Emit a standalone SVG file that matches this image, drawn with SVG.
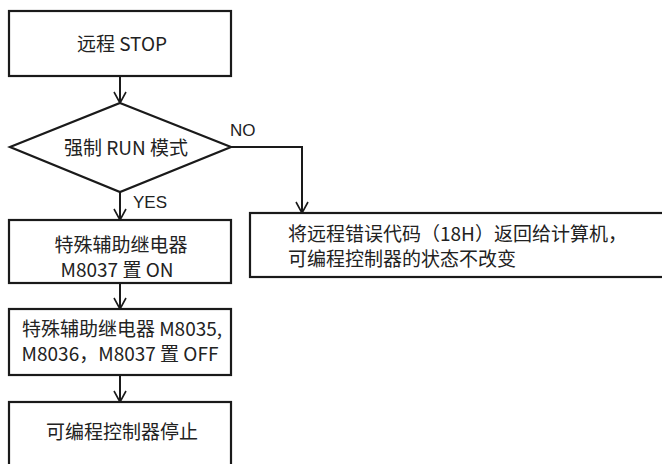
<svg xmlns="http://www.w3.org/2000/svg" width="662" height="464" viewBox="0 0 662 464">
<defs>
<marker id="arr" markerWidth="14" markerHeight="14" viewBox="-12 -7 14 14" refX="0" refY="0" orient="auto" markerUnits="userSpaceOnUse">
<polyline points="-11,-6 0,0 -11,6" fill="none" stroke="#1a1a1a" stroke-width="1.6"/>
</marker>
</defs>
<style>
.box{fill:#fff;stroke:#1a1a1a;stroke-width:2.2}
.t{font-family:"Noto Sans CJK SC","Noto Sans",sans-serif;font-size:19px;fill:#222}
.c{text-anchor:middle}
.lbl{font-family:"Liberation Sans","Noto Sans CJK SC",sans-serif;font-size:17px;fill:#222}
.ln{fill:none;stroke:#1a1a1a;stroke-width:2}
</style>
<rect width="662" height="464" fill="#fff"/>
<g id="connectors">
<line class="ln" x1="120" y1="76" x2="120" y2="103" marker-end="url(#arr)"/>
<line class="ln" x1="120" y1="192" x2="120" y2="220" marker-end="url(#arr)"/>
<polyline class="ln" points="231,147 302,147 302,213" marker-end="url(#arr)"/>
<line class="ln" x1="120" y1="283" x2="120" y2="309" marker-end="url(#arr)"/>
<line class="ln" x1="120" y1="375" x2="120" y2="402" marker-end="url(#arr)"/>
<text class="lbl" x="230" y="136">NO</text>
<text class="lbl" x="133" y="208">YES</text>
</g>
<g id="n1">
<rect class="box" x="9" y="11" width="222" height="65"/>
<text class="t c" x="122" y="51">远程 STOP</text>
</g>
<g id="n2">
<polygon class="box" points="120,103 231,147 120,192 10,147"/>
<text class="t c" x="126" y="155">强制 RUN 模式</text>
</g>
<g id="n3">
<rect class="box" x="250" y="213" width="414" height="64"/>
<text class="t" x="288" y="241">将远程错误代码（18H）返回给计算机，</text>
<text class="t" x="288" y="266">可编程控制器的状态不改变</text>
</g>
<g id="n4">
<rect class="box" x="9" y="220" width="222" height="63"/>
<text class="t c" x="121" y="252">特殊辅助继电器</text>
<text class="t c" x="117" y="277">M8037 置 ON</text>
</g>
<g id="n5">
<rect class="box" x="9" y="309" width="222" height="66"/>
<text class="t c" x="122" y="336">特殊辅助继电器 M8035,</text>
<text class="t c" x="120" y="361">M8036，M8037 置 OFF</text>
</g>
<g id="n6">
<rect class="box" x="9" y="402" width="222" height="70"/>
<text class="t c" x="122" y="439">可编程控制器停止</text>
</g>
</svg>
